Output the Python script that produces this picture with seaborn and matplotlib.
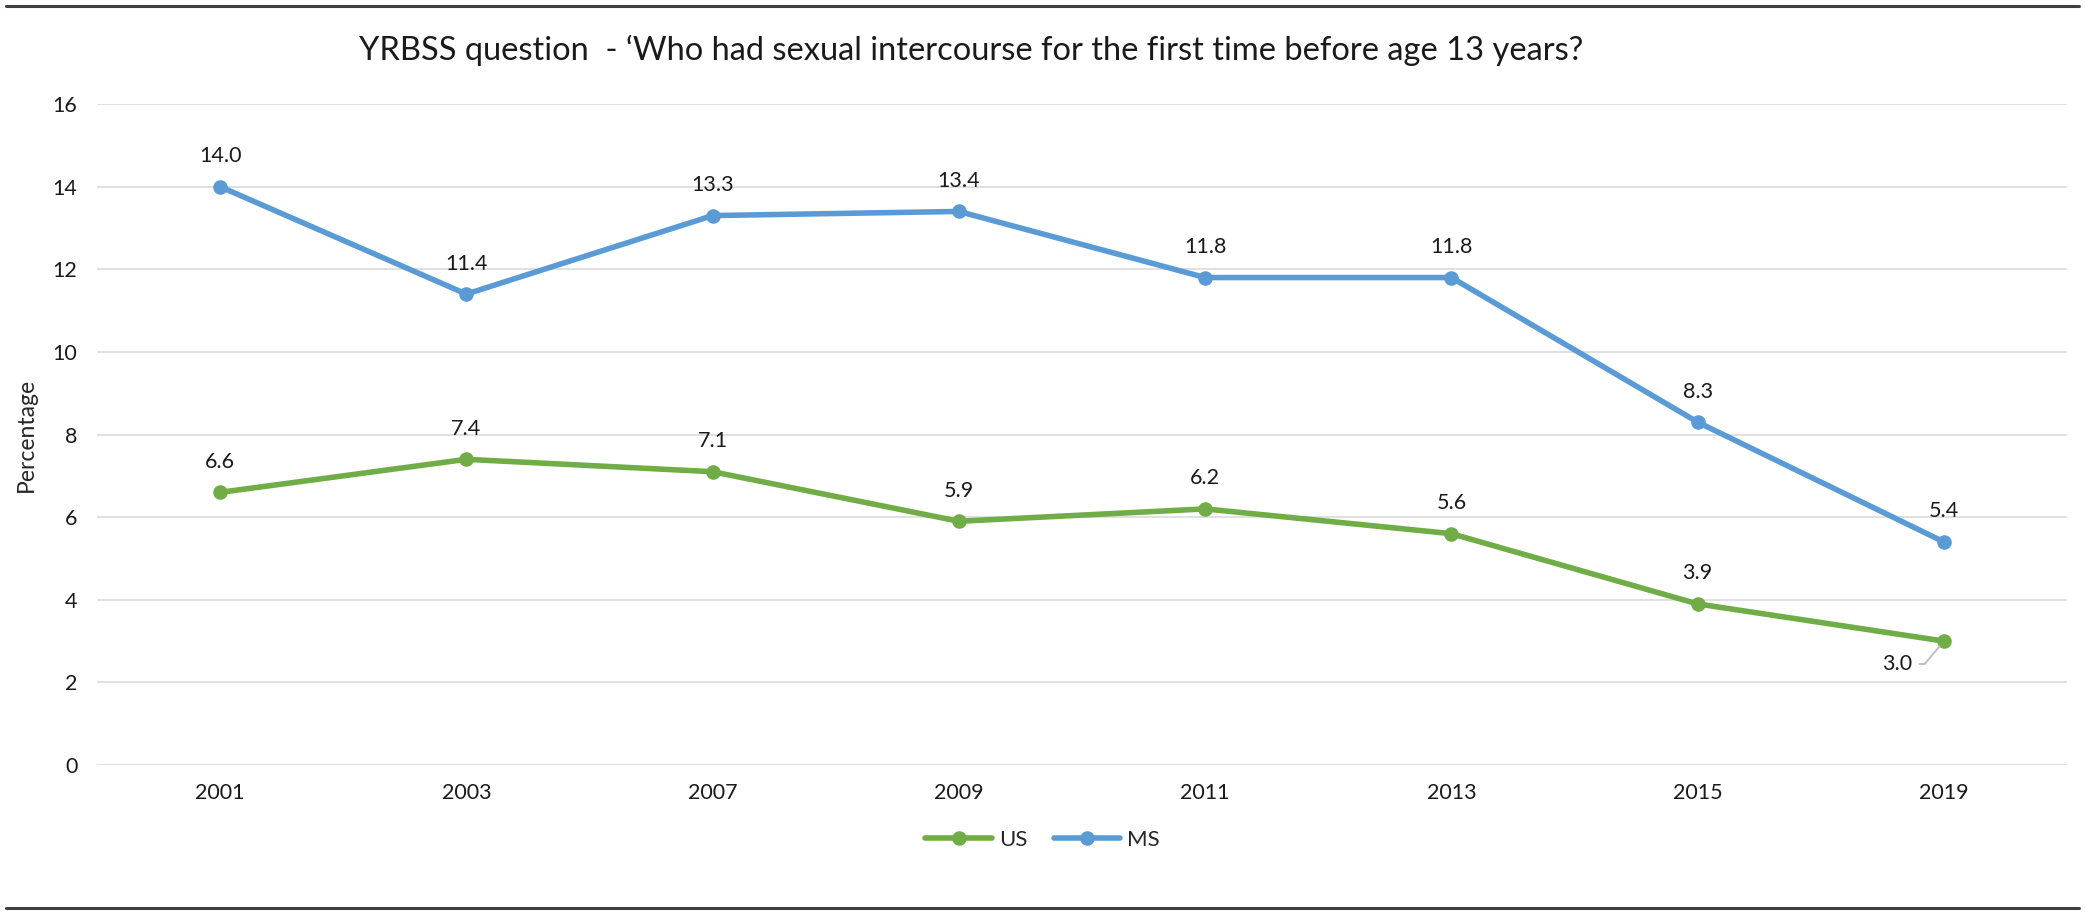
import pandas as pd
import seaborn as sns
import matplotlib.pyplot as plt
from matplotlib.lines import Line2D

years = ["2001", "2003", "2007", "2009", "2011", "2013", "2015", "2019"]
us_values = [6.6, 7.4, 7.1, 5.9, 6.2, 5.6, 3.9, 3.0]
ms_values = [14.0, 11.4, 13.3, 13.4, 11.8, 11.8, 8.3, 5.4]
series_names = ["US", "MS"]
colors = {"US": "#70AD47", "MS": "#5B9BD5"}

df = pd.DataFrame({
    "year": years * 2,
    "value": us_values + ms_values,
    "series": ["US"] * len(years) + ["MS"] * len(years),
})

sns.set_style("white")
plt.rcParams["font.family"] = ["Lato", "DejaVu Sans"]

fig = plt.figure(figsize=(20.85, 9.15), dpi=100)
ax = fig.add_axes([0.0465, 0.1639, 0.9449, 0.7224])

sns.lineplot(data=df, x="year", y="value", hue="series", hue_order=series_names,
             palette=colors, marker="o", markersize=10.5, markeredgewidth=0,
             linewidth=4, ax=ax, legend=False, sort=False)

ax.set_xlim(-0.5, len(years) - 0.5)
ax.set_ylim(0, 16)
ax.set_yticks(range(0, 17, 2))
ax.grid(axis="y", color="#DDDDDD", linewidth=1.3)
ax.grid(axis="x", visible=False)
for s in ax.spines.values():
    s.set_visible(False)
ax.tick_params(axis="both", length=0, labelsize=15.5, colors="#1a1a1a")
ax.tick_params(axis="x", pad=13)
ax.tick_params(axis="y", pad=14)
ax.set_xlabel("")
ax.set_ylabel("Percentage", fontsize=16.5, labelpad=11)

# data labels
for i, v in enumerate(ms_values):
    ax.annotate(f"{v:.1f}", (i, v), xytext=(0, 22), textcoords="offset points",
                ha="center", va="center", fontsize=15.5, color="#1a1a1a")
for i, v in enumerate(us_values):
    if i == len(us_values) - 1:
        ax.annotate(f"{v:.1f}", (i, v), xytext=(-34, -16.5), textcoords="offset points",
                    ha="center", va="center", fontsize=15.5, color="#1a1a1a",
                    arrowprops=dict(arrowstyle="-", color="#BFBFBF", lw=1.4,
                                    shrinkA=3, shrinkB=5,
                                    connectionstyle="angle,angleA=0,angleB=50,rad=0"))
    else:
        ax.annotate(f"{v:.1f}", (i, v), xytext=(0, 22), textcoords="offset points",
                    ha="center", va="center", fontsize=15.5, color="#1a1a1a")

fig.text(0.466, 0.945, "YRBSS question  - \u2018Who had sexual intercourse for the first time before age 13 years?",
         ha="center", va="center", fontsize=23.5, color="#1a1a1a")

handles = [Line2D([0], [0], color=colors[n], lw=4, marker="o", markersize=10.5,
                  markeredgewidth=0) for n in series_names]
fig.legend(handles, series_names, loc="center", bbox_to_anchor=(0.5, 0.082), ncol=2,
           frameon=False, fontsize=16, handlelength=3, columnspacing=1.2, handletextpad=0.3)

# frame lines top and bottom
fig.add_artist(Line2D([0.003, 0.997], [0.9935, 0.9935], color="#404040", lw=2.2))
fig.add_artist(Line2D([0.003, 0.997], [0.008, 0.008], color="#404040", lw=2.2))

fig.savefig("out.png", dpi=100)
